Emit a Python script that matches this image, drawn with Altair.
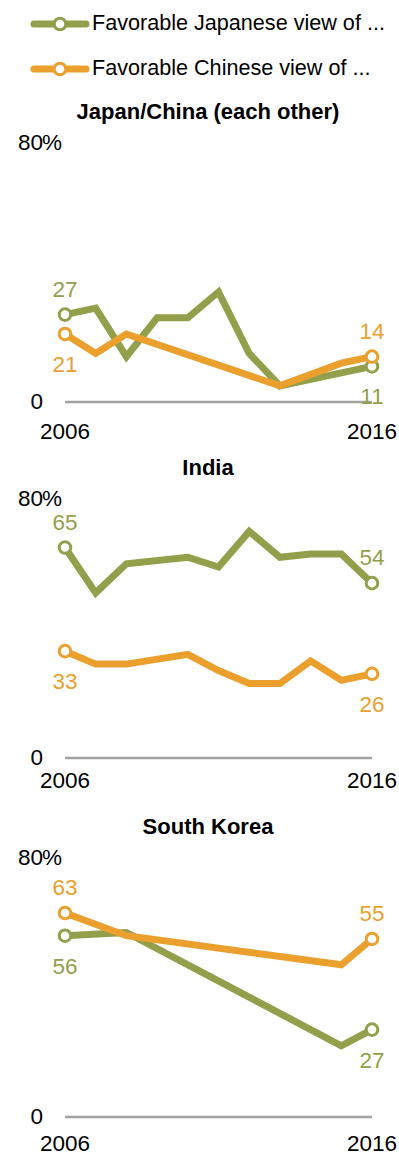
import altair as alt
import pandas as pd

# ---------------- data ----------------
series_names = ["Favorable Japanese view of ...", "Favorable Chinese view of ..."]
panel_titles = ["Japan/China (each other)", "India", "South Korea"]
y_ticks = [0, 80]
x_ticks = [2006, 2016]

jc_jp_years = [2006, 2007, 2008, 2009, 2010, 2011, 2012, 2013, 2014, 2015, 2016]
jc_jp_vals = [27, 29, 14, 26, 26, 34, 15, 5, 7, 9, 11]
jc_cn_years = [2006, 2007, 2008, 2013, 2015, 2016]
jc_cn_vals = [21, 15, 21, 5, 12, 14]

in_years = [2006, 2007, 2008, 2010, 2011, 2012, 2013, 2014, 2015, 2016]
in_jp_vals = [65, 51, 60, 62, 59, 70, 62, 63, 63, 54]
in_cn_vals = [33, 29, 29, 32, 27, 23, 23, 30, 24, 26]

sk_years = [2006, 2008, 2015, 2016]
sk_jp_vals = [56, 57, 22, 27]
sk_cn_vals = [63, 56, 47, 55]

# ---------------- style ----------------
GREEN = "#939f4a"
ORANGE = "#eb9f2c"
GRAY = "#a3a3a3"
FONT = "Liberation Sans"
W = 399
X_RANGE = [65, 372]
Y_TOP, Y_BOT = 50, 309
NUM_SIZE = 22.5
PT_SIZE = 135

color_scale = alt.Scale(domain=series_names, range=[GREEN, ORANGE])


def xs(field="year"):
    return alt.X(f"{field}:Q", scale=alt.Scale(domain=[2006, 2016], range=X_RANGE), axis=None)


def ys(field="value"):
    return alt.Y(f"{field}:Q", scale=alt.Scale(domain=[0, 80], range=[Y_BOT, Y_TOP]), axis=None)


def panel(title, jp_years, jp_vals, cn_years, cn_vals, block_h, xlab_y):
    jp = pd.DataFrame({"year": jp_years, "value": jp_vals, "series": series_names[0]})
    cn = pd.DataFrame({"year": cn_years, "value": cn_vals, "series": series_names[1]})

    # end points and their labels (higher value above, lower below)
    ends = []
    for yr in (min(jp_years), max(jp_years)):
        a = jp[jp.year == yr].value.iloc[0]
        b = cn[cn.year == yr].value.iloc[0]
        ends.append({"year": yr, "value": a, "series": series_names[0], "above": a >= b})
        ends.append({"year": yr, "value": b, "series": series_names[1], "above": b > a})
    ends = pd.DataFrame(ends)
    ends["label"] = ends["value"].astype(int).astype(str)

    stroke = alt.Stroke("series:N", scale=color_scale, legend=None)
    col = alt.Color("series:N", scale=color_scale, legend=None)

    base_rule = alt.Chart(pd.DataFrame({"x": [2006], "x2": [2016], "v": [0]})).mark_rule(
        color=GRAY, strokeWidth=2.5
    ).encode(x=xs("x"), x2="x2:Q", y=ys("v"))

    line_jp = alt.Chart(jp).mark_line(strokeWidth=7, color=GREEN).encode(x=xs(), y=ys())
    line_cn = alt.Chart(cn).mark_line(strokeWidth=7, color=ORANGE).encode(x=xs(), y=ys())

    pts = alt.Chart(ends).mark_circle(size=PT_SIZE, fill="white", opacity=1, strokeWidth=3).encode(
        x=xs(), y=ys(), stroke=stroke
    )
    lab_above = alt.Chart(ends[ends.above]).mark_text(
        font=FONT, fontSize=NUM_SIZE, dy=-25
    ).encode(x=xs(), y=ys(), text="label:N", color=col)
    lab_below = alt.Chart(ends[~ends.above]).mark_text(
        font=FONT, fontSize=NUM_SIZE, dy=31
    ).encode(x=xs(), y=ys(), text="label:N", color=col)

    tick_df = pd.DataFrame({"v": y_ticks, "label": [str(t) for t in y_ticks]})
    ylab = alt.Chart(tick_df).mark_text(
        font=FONT, fontSize=NUM_SIZE, align="right", color="black"
    ).encode(x=alt.value(43), y=ys("v"), text="label:N")
    pct = alt.Chart(tick_df[tick_df.v == max(y_ticks)]).mark_text(
        font=FONT, fontSize=NUM_SIZE, align="left", color="black"
    ).encode(x=alt.value(42), y=ys("v"), text=alt.value("%"))

    xt_df = pd.DataFrame({"year": x_ticks, "label": [str(t) for t in x_ticks]})
    xlab = alt.Chart(xt_df).mark_text(font=FONT, fontSize=NUM_SIZE, color="black").encode(
        x=xs(), y=alt.value(xlab_y), text="label:N"
    )

    ttl = alt.Chart(pd.DataFrame({"t": [title]})).mark_text(
        font=FONT, fontSize=22, fontWeight="bold", color="black"
    ).encode(x=alt.value(208), y=alt.value(19), text="t:N")

    return alt.layer(base_rule, line_jp, line_cn, pts, lab_above, lab_below, ylab, pct, xlab, ttl).properties(
        width=W, height=block_h
    )


# legend block
leg_df = pd.DataFrame({"series": series_names, "row": [0, 1]})
leg_y = alt.Y("row:Q", scale=alt.Scale(domain=[0, 1], range=[24, 69]), axis=None)
leg_stroke = alt.Stroke("series:N", scale=color_scale, legend=None)
leg_line = alt.Chart(leg_df).mark_rule(strokeWidth=7, strokeCap="round").encode(
    x=alt.value(34), x2=alt.value(86), y=leg_y, stroke=leg_stroke
)
leg_pt = alt.Chart(leg_df).mark_circle(size=PT_SIZE, fill="white", opacity=1, strokeWidth=3).encode(
    x=alt.value(60), y=leg_y, stroke=leg_stroke
)
leg_txt = alt.Chart(leg_df).mark_text(font=FONT, fontSize=21.6, align="left", color="black").encode(
    x=alt.value(92), y=leg_y, text="series:N"
)
legend = alt.layer(leg_line, leg_pt, leg_txt).properties(width=W, height=93)

p1 = panel(panel_titles[0], jc_jp_years, jc_jp_vals, jc_cn_years, jc_cn_vals, 356, 339)
p2 = panel(panel_titles[1], in_years, in_jp_vals, in_years, in_cn_vals, 359, 332)
p3 = panel(panel_titles[2], sk_years, sk_jp_vals, sk_years, sk_cn_vals, 346, 336)

chart = alt.vconcat(legend, p1, p2, p3, spacing=0, bounds="flush").properties(
    padding=0, background="white"
).configure_view(stroke=None, strokeWidth=0)

chart.save("out.html", embed_options={"renderer": "svg", "actions": False})
